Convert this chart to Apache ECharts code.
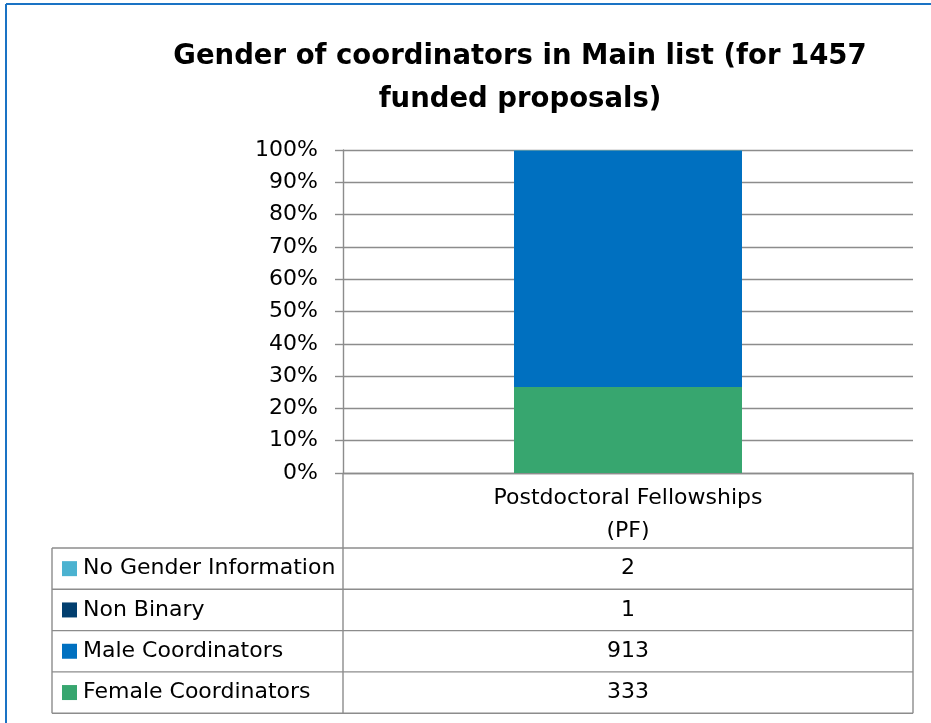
<!DOCTYPE html>
<html>
<head>
<meta charset="utf-8">
<title>Gender of coordinators</title>
<script src="https://cdn.jsdelivr.net/npm/echarts@6/dist/echarts.min.js"></script>
<style>
html,body{margin:0;padding:0;background:#fff;}
#chart{width:931px;height:723px;}
</style>
</head>
<body>
<div id="chart"></div>
<script>
// data
var categories = ['Postdoctoral Fellowships\n(PF)'];
var seriesNames = ['Female Coordinators', 'Male Coordinators', 'Non Binary', 'No Gender Information'];
var femaleCounts = [333];
var maleCounts = [913];
var nonBinaryCounts = [1];
var noGenderCounts = [2];
var yTicks = [0, 10, 20, 30, 40, 50, 60, 70, 80, 90, 100];
var colors = ['#37a66f', '#0070c0', '#023f6f', '#4bb2d0'];

var FONT = '"DejaVu Sans"';
var FS = 22;
var W = 931, H = 723;
var gL = 343, gR = 913, gT = 150, gB = 473;
var tableLeft = 52, tableTop = 548, rowH = 41.3;
var lineCol = '#8c8c8c';

var chart = echarts.init(document.getElementById('chart'));

var counts = [femaleCounts, maleCounts, nonBinaryCounts, noGenderCounts];
var totals = categories.map(function(c, i){
	var s = 0;
	counts.forEach(function(a){ s += a[i]; });
	return s;
});

var series = seriesNames.map(function(name, k){
	return {
		name: name,
		type: 'bar',
		stack: 'all',
		barWidth: '40%',
		itemStyle: {color: colors[k]},
		data: counts[k].map(function(v, i){ return v / totals[i] * 100; })
	};
});

// data table under the plot (rows top to bottom, like the picture)
var graphics = [];
var order = [3, 2, 1, 0];
function hline(x1, x2, y){
	graphics.push({type:'line', shape:{x1:x1, y1:y, x2:x2, y2:y}, style:{stroke:lineCol, lineWidth:1.4}, z:10});
}
function vline(x, y1, y2){
	graphics.push({type:'line', shape:{x1:x, y1:y1, x2:x, y2:y2}, style:{stroke:lineCol, lineWidth:1.4}, z:10});
}
var tableBottom = tableTop + rowH * order.length;
hline(tableLeft, gR, tableTop);
order.forEach(function(k, r){
	var y0 = tableTop + r * rowH;
	hline(tableLeft, gR, y0 + rowH);
	graphics.push({type:'rect', shape:{x:62, y:y0 + rowH/2 - 7.5, width:15, height:15}, style:{fill:colors[k]}, z:10});
	graphics.push({type:'text', style:{text:seriesNames[k], x:83, y:y0 + rowH/2, verticalAlign:'middle', font:FS + 'px ' + FONT, fill:'#000'}, z:10});
	graphics.push({type:'text', style:{text:String(counts[k][0]), x:(gL + gR)/2, y:y0 + rowH/2, align:'center', verticalAlign:'middle', font:FS + 'px ' + FONT, fill:'#000'}, z:10});
});
vline(tableLeft, tableTop, tableBottom);
vline(gL, gB, tableBottom);
vline(gR, gB, tableBottom);
// outer chart border (top and left visible)
graphics.push({type:'line', shape:{x1:6, y1:4, x2:W, y2:4}, style:{stroke:'#1a73c4', lineWidth:2}, z:10});
graphics.push({type:'line', shape:{x1:6, y1:4, x2:6, y2:H}, style:{stroke:'#1a73c4', lineWidth:2}, z:10});

option = {
	backgroundColor: '#fff',
	animation: false,
	title: {
		text: 'Gender of coordinators in Main list (for 1457\nfunded proposals)',
		left: 515,
		top: 30,
		textAlign: 'center',
		textStyle: {fontFamily: FONT, fontWeight: 'bold', fontSize: 27.5, lineHeight: 43, color: '#000'}
	},
	grid: {left: gL, right: W - gR, top: gT, bottom: H - gB, containLabel: false},
	xAxis: {
		type: 'category',
		data: categories,
		axisLine: {show: true, lineStyle: {color: lineCol, width: 1.4}},
		axisTick: {show: false},
		axisLabel: {margin: 9, fontFamily: FONT, fontSize: FS, color: '#000', lineHeight: 33}
	},
	yAxis: {
		type: 'value',
		min: yTicks[0],
		max: yTicks[yTicks.length - 1],
		interval: yTicks[1] - yTicks[0],
		axisLine: {show: true, lineStyle: {color: lineCol, width: 1.4}},
		axisTick: {show: true, length: 8, lineStyle: {color: lineCol, width: 1.4}},
		splitLine: {show: true, lineStyle: {color: lineCol, width: 1.4}},
		axisLabel: {formatter: '{value}%', margin: 25, fontFamily: FONT, fontSize: FS, color: '#000'}
	},
	series: series,
	graphic: graphics
};

chart.setOption(option);
</script>
</body>
</html>
